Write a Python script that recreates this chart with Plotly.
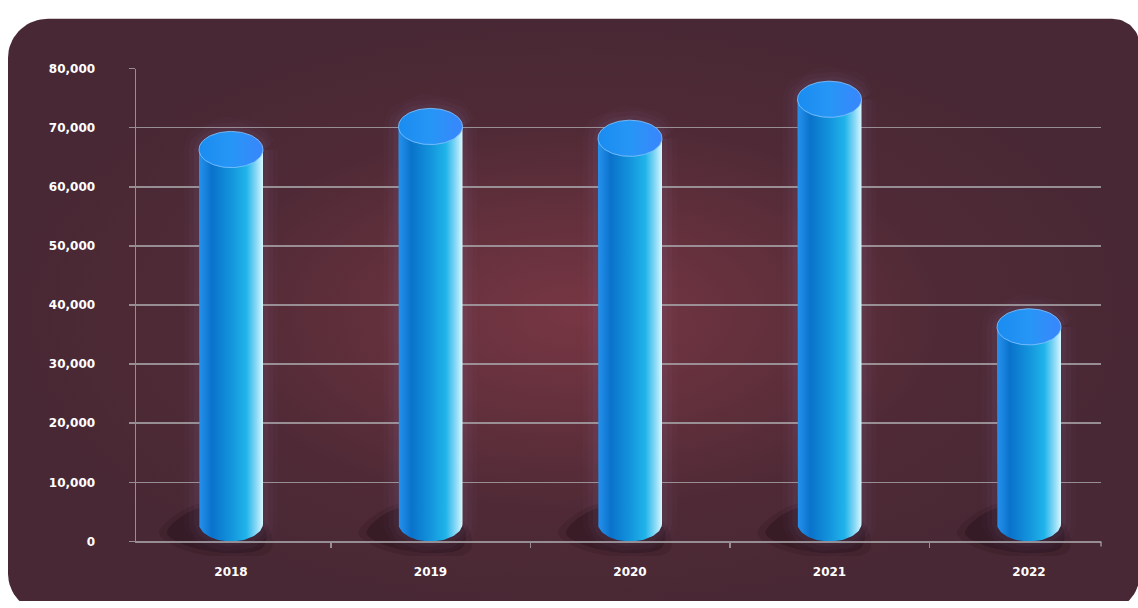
import numpy as np
import plotly.graph_objects as go

# ---------------- data ----------------
years = ["2018", "2019", "2020", "2021", "2022"]
values = [66300, 70200, 68200, 74800, 36300]
y_tick_values = [0, 10000, 20000, 30000, 40000, 50000, 60000, 70000, 80000]
y_tick_labels = ["0", "10,000", "20,000", "30,000", "40,000", "50,000", "60,000", "70,000", "80,000"]

# ---------------- geometry / style ----------------
W, H = 1138, 608
L, R, T, B = 136, 1101, 63, 547          # plot area in px
YMAX = 80000
UPX = YMAX / (B - T)                     # data units per px (y)
XPX = 199.5                              # px per category
X0PX = 231                               # px of first category
x_range = [(L - X0PX) / XPX, (R - X0PX) / XPX]
RX = 32 / XPX                            # cylinder half width (x units)
RY = 18.5 * UPX                          # ellipse half height (y units)

GRID = "rgba(165,160,165,0.85)"
FONT = dict(family="DejaVu Sans", size=12, color="white", weight="bold")

body_scale = [[0.0, "#2692ee"], [0.2, "#0a72cb"], [0.5, "#1394dc"],
              [0.74, "#20b4ea"], [0.9, "#8ddaf6"], [1.0, "#d8f7ff"]]
top_scale = [[0.0, "#1a8cf0"], [0.5, "#2696f6"], [1.0, "#3a86fc"]]

fig = go.Figure()

# ---------------- background card (subplot x / y in px space) ----------------
def rounded_rect(x0, y0, x1, y1, rtl, rtr, rbr, rbl, n=18):
    pts = []
    def arc(cx, cy, r, a0, a1):
        for a in np.linspace(a0, a1, n):
            pts.append((cx + r * np.cos(a), cy + r * np.sin(a)))
    arc(x0 + rtl, y0 + rtl, rtl, np.pi, 1.5 * np.pi)
    arc(x1 - rtr, y0 + rtr, rtr, 1.5 * np.pi, 2 * np.pi)
    arc(x1 - rbr, y1 - rbr, rbr, 0, 0.5 * np.pi)
    arc(x0 + rbl, y1 - rbl, rbl, 0.5 * np.pi, np.pi)
    pts.append(pts[0])
    return [p[0] for p in pts], [p[1] for p in pts]

bx, by = rounded_rect(8, 12, 1140, 620, 40, 28, 40, 40)
fig.add_trace(go.Scatter(
    x=bx, y=by, mode="lines", fill="toself", line=dict(width=0, color="#4a2935"),
    fillgradient=dict(type="radial",
                      colorscale=[[0.0, "#773643"], [0.35, "#62303c"],
                                  [0.65, "#4f2a36"], [1.0, "#482834"]]),
    xaxis="x", yaxis="y", hoverinfo="skip", showlegend=False))

# ---------------- shadows + glow (subplot x2 / y2) ----------------
shadow_px = [(-32, 513), (-64, 538), (-52, 548), (-2, 559), (32, 553), (33, 532)]
shadow_px2 = [(-30, 508), (-72, 538), (-56, 552), (-2, 564), (40, 556), (34, 528)]
t_full = np.linspace(0, 2 * np.pi, 90)
t_low = np.linspace(np.pi, 2 * np.pi, 40)
t_up = np.linspace(0, np.pi, 40)

for i, v in enumerate(values):
    for pts, op in ((shadow_px2, 0.14), (shadow_px, 0.28)):
        sx = [i + dx / XPX for dx, _ in pts] + [i + pts[0][0] / XPX]
        sy = [(B - py) * UPX for _, py in pts] + [(B - pts[0][1]) * UPX]
        fig.add_trace(go.Scatter(
            x=sx, y=sy, mode="lines", fill="toself",
            fillcolor=f"rgba(25,6,14,{op})", line=dict(width=0, color="rgba(0,0,0,0)"),
            line_shape="spline", xaxis="x2", yaxis="y2", hoverinfo="skip", showlegend=False))
    # outline of the cylinder for a soft glow
    ox = list(i + RX * np.cos(t_up)) + list(i + RX * np.cos(t_low)) + [i + RX]
    oy = list(v + RY * np.sin(t_up)) + list(RY + RY * np.sin(t_low)) + [v]
    for wdt, op in ((30, 0.02), (20, 0.03), (10, 0.04)):
        fig.add_trace(go.Scatter(
            x=ox, y=oy, mode="lines", line=dict(width=wdt, color=f"rgba(180,175,245,{op})"),
            xaxis="x2", yaxis="y2", hoverinfo="skip", showlegend=False))

# ---------------- cylinders (subplot x3 / y3) ----------------
for i, v in enumerate(values):
    px_ = [i - RX, i - RX] + list(i + RX * np.cos(t_low)) + [i + RX, i - RX]
    py_ = [v, RY] + list(RY + RY * np.sin(t_low)) + [v, v]
    fig.add_trace(go.Scatter(
        x=px_, y=py_, mode="lines", fill="toself", line=dict(width=0, color="#1394dc"),
        fillgradient=dict(type="horizontal", colorscale=body_scale),
        xaxis="x3", yaxis="y3", hoverinfo="skip", showlegend=False))
    ex = list(i + RX * np.cos(t_full))
    ey = list(v + RY * np.sin(t_full))
    fig.add_trace(go.Scatter(
        x=ex, y=ey, mode="lines", fill="toself",
        line=dict(width=1, color="rgba(130,195,255,0.85)"),
        fillgradient=dict(type="horizontal", colorscale=top_scale),
        xaxis="x3", yaxis="y3", hoverinfo="skip", showlegend=False))

# ---------------- layout ----------------
xd = [L / W, R / W]
yd = [(H - B) / H, (H - T) / H]
ext_lo, ext_hi = 15, 20
yd2 = [(H - B - ext_lo) / H, (H - T + ext_hi) / H]

hidden = dict(visible=False, showgrid=False, zeroline=False, fixedrange=True)

fig.update_layout(
    width=W, height=H,
    margin=dict(l=0, r=0, t=0, b=0),
    paper_bgcolor="white", plot_bgcolor="rgba(0,0,0,0)",
    hovermode=False, showlegend=False,
    xaxis=dict(domain=[0, 1], range=[0, W], **hidden),
    yaxis=dict(domain=[0, 1], range=[H, 0], **hidden),
    xaxis2=dict(domain=xd, range=x_range, anchor="y2", **hidden),
    yaxis2=dict(domain=yd2, range=[-ext_lo * UPX, YMAX + ext_hi * UPX], anchor="x2", **hidden),
    xaxis3=dict(
        domain=xd, range=x_range, anchor="y3",
        tickmode="array", tickvals=list(range(len(years))), ticktext=years,
        ticks="outside", ticklen=0, tickfont=FONT, ticklabelstandoff=19,
        showgrid=False, zeroline=False, showline=True, linecolor=GRID, linewidth=1.5,
        minor=dict(ticks="outside", ticklen=5, tickwidth=1.5, tickcolor=GRID,
                   tick0=0.5, dtick=1, showgrid=False),
        fixedrange=True),
    yaxis3=dict(
        domain=yd, range=[0, YMAX], anchor="x3",
        tickmode="array", tickvals=y_tick_values, ticktext=y_tick_labels,
        ticks="outside", ticklen=6, tickwidth=1.5, tickcolor=GRID,
        tickfont=FONT, ticklabelstandoff=31,
        showgrid=True, gridcolor=GRID, gridwidth=1.5,
        zeroline=False, showline=True, linecolor=GRID, linewidth=1.5,
        fixedrange=True),
    shapes=[dict(type="line", xref="x3 domain", yref="y3 domain",
                 x0=1, x1=1, ysizemode="pixel", yanchor=0, y0=0, y1=-5,
                 line=dict(color=GRID, width=1.5))],
)

post = (
    "var gd=document.getElementById('{plot_id}');"
    "gd.style.position='fixed';gd.style.top='0px';gd.style.left='0px';"
    "document.documentElement.style.margin='0';document.documentElement.style.overflow='hidden';"
    "document.body.style.margin='0';document.body.style.padding='0';"
    "document.body.style.overflow='hidden';"
)

fig.write_html(
    "out.html",
    config={"displayModeBar": False, "staticPlot": True},
    post_script=post,
)
